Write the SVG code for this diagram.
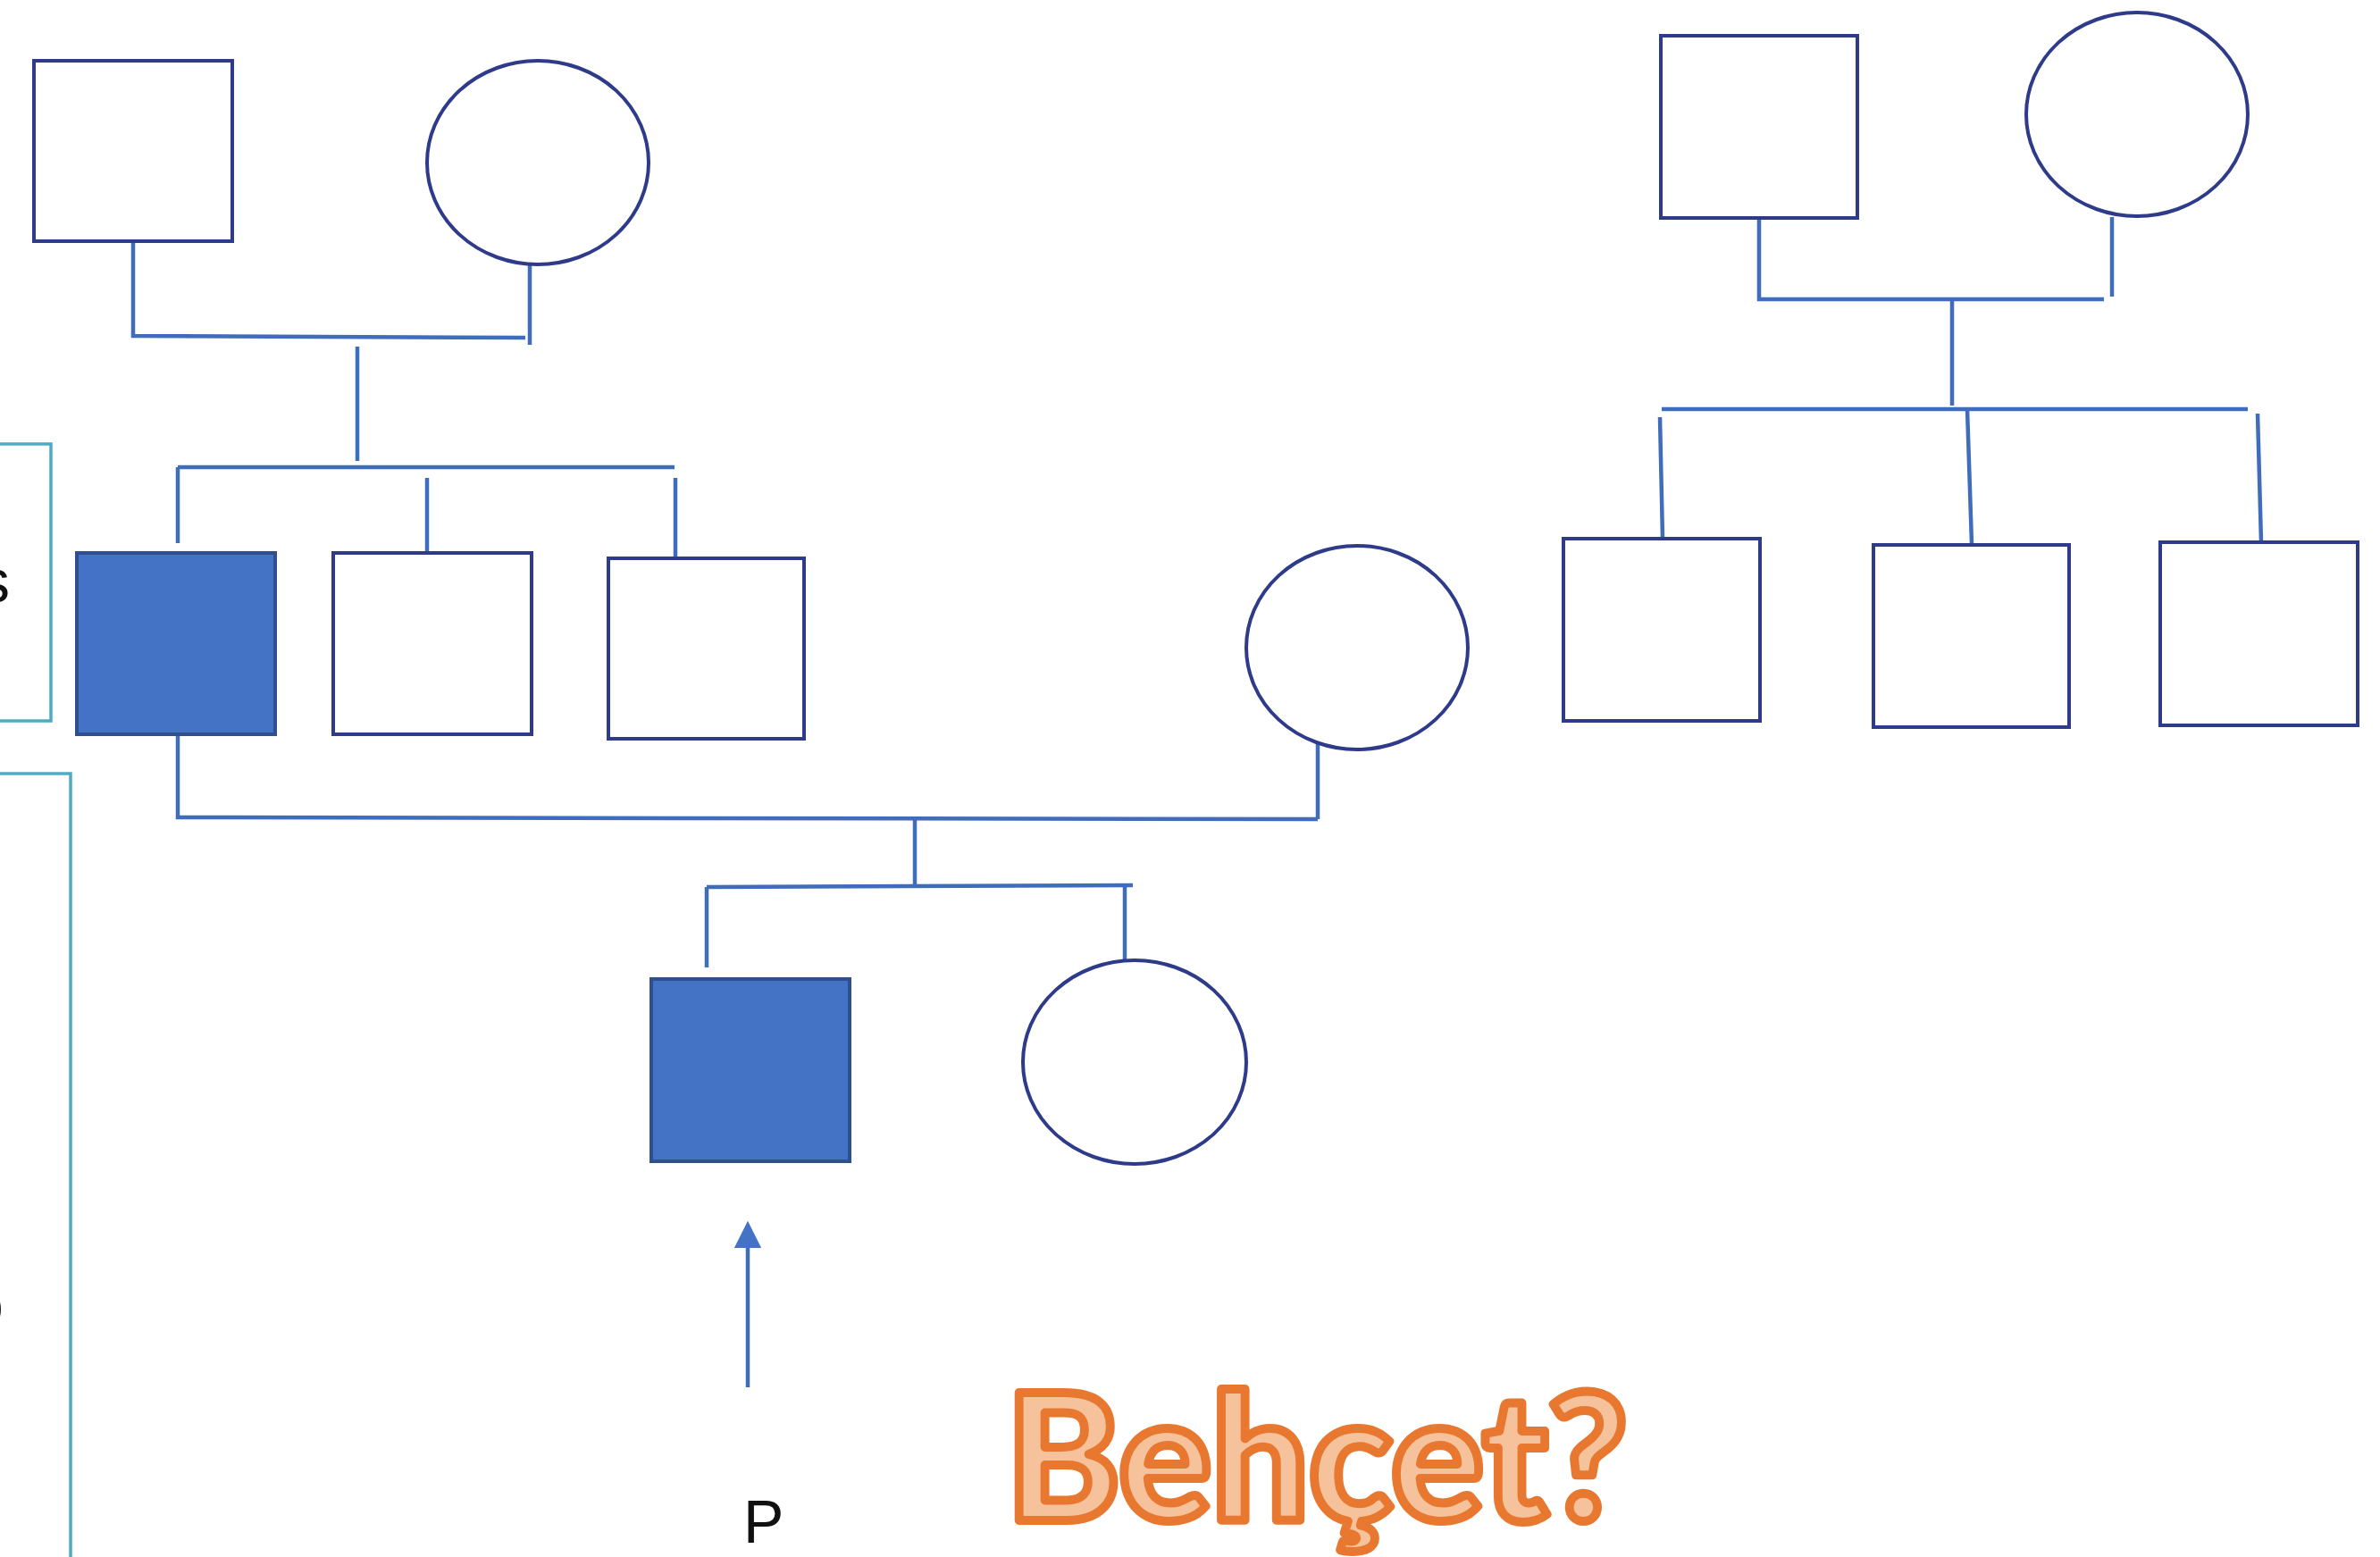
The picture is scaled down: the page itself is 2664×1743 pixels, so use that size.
<svg xmlns="http://www.w3.org/2000/svg" width="2664" height="1743" viewBox="0 0 2664 1743">
<style>
.node{fill:#ffffff;stroke:#2E3A8A;stroke-width:4}
.aff{fill:#4472C4;stroke:#2F4F8F;stroke-width:4}
.con{stroke:#3F6DBB;stroke-width:4.5;fill:none;stroke-linecap:butt}
.box{fill:none;stroke:#4FAAC4;stroke-width:3.5}
.lbl{font-family:"Liberation Sans",Arial,sans-serif;font-size:68px;fill:#111111}
.title{font-family:Lato,"Open Sans",sans-serif;font-weight:900;font-size:196px;fill:#F6C29B;stroke:#E8782F;stroke-width:10;stroke-linejoin:round}
</style>
<defs>
<marker id="arr" viewBox="0 0 10 10" refX="2.3" refY="5" markerWidth="6.7" markerHeight="6.7" markerUnits="strokeWidth" orient="auto">
<path d="M0,0 L10,5 L0,10 Z" fill="#4472C4"/>
</marker>
</defs>
<rect width="2664" height="1743" fill="#ffffff"/>

<g id="side-boxes">
<rect class="box" x="-20" y="497" width="77" height="310"/>
<rect class="box" x="-20" y="866" width="99" height="900"/>
<text class="lbl" x="-23" y="674">s</text>
<text class="lbl" x="-34" y="1484">o</text>
</g>

<g id="connectors">
<!-- left grandparents -->
<polyline class="con" points="149,270 149,376 588,378"/>
<line class="con" x1="593" y1="296" x2="593" y2="386"/>
<line class="con" x1="400" y1="388" x2="400" y2="516"/>
<line class="con" x1="199" y1="523" x2="755" y2="523"/>
<line class="con" x1="199" y1="523" x2="199" y2="608"/>
<line class="con" x1="478" y1="535" x2="478" y2="621"/>
<line class="con" x1="756" y1="535" x2="756" y2="625"/>
<!-- marriage gen 2 -->
<polyline class="con" points="199,822 199,915 1475,917"/>
<line class="con" x1="1475" y1="832" x2="1475" y2="917"/>
<line class="con" x1="1024" y1="915" x2="1024" y2="994"/>
<line class="con" x1="791" y1="993" x2="1268" y2="991"/>
<line class="con" x1="791" y1="993" x2="791" y2="1083"/>
<line class="con" x1="1259" y1="993" x2="1259" y2="1076"/>
<!-- right grandparents -->
<polyline class="con" points="1969,244 1969,335 2355,335"/>
<line class="con" x1="2364" y1="243" x2="2364" y2="332"/>
<line class="con" x1="2185" y1="335" x2="2185" y2="454"/>
<line class="con" x1="1860" y1="458" x2="2516" y2="458"/>
<line class="con" x1="1858" y1="467" x2="1861" y2="603"/>
<line class="con" x1="2202" y1="458" x2="2207" y2="609"/>
<line class="con" x1="2527" y1="463" x2="2531" y2="607"/>
<!-- proband arrow -->
<line class="con" x1="837" y1="1553" x2="837" y2="1390" marker-end="url(#arr)"/>
</g>

<g id="left-grandfather"><rect class="node" x="38" y="68" width="222" height="202"/></g>
<g id="left-grandmother"><ellipse class="node" cx="602" cy="182" rx="124" ry="114"/></g>
<g id="affected-father"><rect class="aff" x="86" y="619" width="222" height="203"/></g>
<g id="uncle-1"><rect class="node" x="373" y="619" width="222" height="203"/></g>
<g id="uncle-2"><rect class="node" x="681" y="625" width="219" height="202"/></g>
<g id="mother"><ellipse class="node" cx="1519" cy="725" rx="124" ry="114"/></g>
<g id="proband"><rect class="aff" x="729" y="1096" width="222" height="204"/></g>
<g id="sister"><ellipse class="node" cx="1270" cy="1189" rx="125" ry="114"/></g>
<g id="right-grandfather"><rect class="node" x="1859" y="40" width="220" height="204"/></g>
<g id="right-grandmother"><ellipse class="node" cx="2392" cy="128" rx="124" ry="114"/></g>
<g id="right-son-1"><rect class="node" x="1750" y="603" width="220" height="204"/></g>
<g id="right-son-2"><rect class="node" x="2097" y="610" width="219" height="204"/></g>
<g id="right-son-3"><rect class="node" x="2418" y="607" width="221" height="205"/></g>

<g id="labels">
<text class="lbl" x="832" y="1727">P</text>
<text class="title" x="1126" y="1702" textLength="696" lengthAdjust="spacingAndGlyphs">Behçet?</text>
</g>
</svg>
